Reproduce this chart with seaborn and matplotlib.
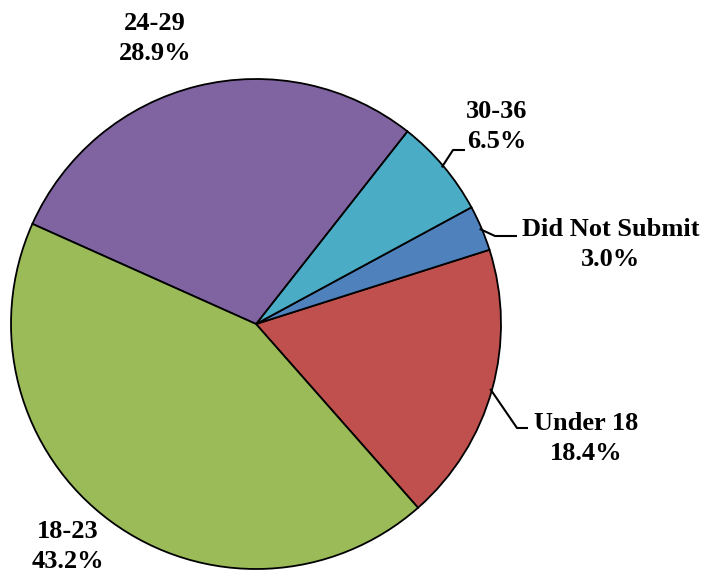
import numpy as np
import matplotlib
matplotlib.use("Agg")
import matplotlib.pyplot as plt
import seaborn as sns

categories = ["Under 18", "Did Not Submit", "30-36", "24-29", "18-23"]
values = [18.4, 3.0, 6.5, 28.9, 43.2]
colors = ["#C0504D", "#4F81BD", "#4BACC6", "#8064A2", "#9BBB59"]

sns.set_style("white")
plt.rcParams["font.family"] = ["Liberation Serif", "DejaVu Serif"]
plt.rcParams["text.color"] = "black"

fig = plt.figure(figsize=(7.03, 5.72), dpi=100)
ax = fig.add_axes([0, 0, 1, 1])

cx, cy, R = 256, -324, 245
start = -48.6
wedges, _ = ax.pie(values, colors=colors, startangle=start, counterclock=True,
                   center=(cx, cy), radius=R,
                   wedgeprops=dict(edgecolor="black", linewidth=1.3))
ax.set_xlim(0, 703)
ax.set_ylim(-572, 0)
ax.set_aspect("equal")
ax.axis("off")

# label layout: (text center x, first-line center y in px), leader elbow points (px) or None
layout = {
    "Under 18": ((586, 423), [(517, 428), (528, 428)]),
    "Did Not Submit": ((611, 230), [(495, 236), (517, 236)]),
    "30-36": ((497, 112), [(453, 150), (465, 150)]),
    "24-29": ((155, 23), None),
    "18-23": ((68, 532), None),
}

for w, cat, val in zip(wedges, categories, values):
    (tx, ty), leader = layout[cat]
    ax.text(tx, -ty, cat, ha="center", va="center", fontsize=19,
            fontweight="bold", color="black")
    ax.text(tx, -(ty + 30), f"{val:.1f}%", ha="center", va="center",
            fontsize=19, fontweight="bold", color="black")
    if leader:
        mid = np.deg2rad((w.theta1 + w.theta2) / 2)
        r_in = R - 2
        p0 = (cx + r_in * np.cos(mid), cy + r_in * np.sin(mid))
        xs = [p0[0]] + [p[0] for p in leader]
        ys = [p0[1]] + [-p[1] for p in leader]
        ax.plot(xs, ys, color="black", lw=1.5, solid_capstyle="butt")

fig.savefig("out.png", dpi=100, facecolor="white")
